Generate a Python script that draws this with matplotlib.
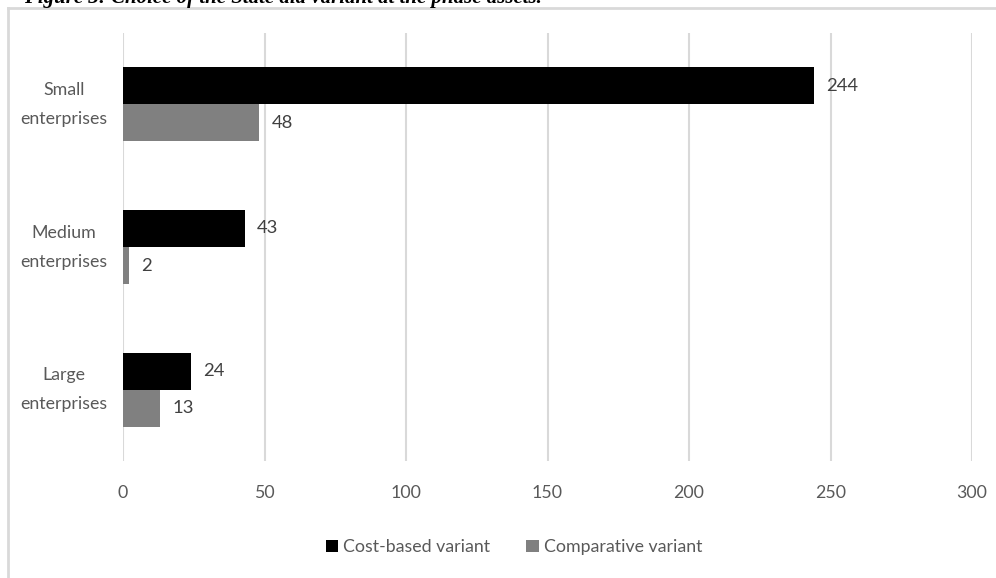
import matplotlib
matplotlib.use("Agg")
import matplotlib.pyplot as plt
from matplotlib.lines import Line2D
from matplotlib.transforms import blended_transform_factory, offset_copy

categories = ["Small\nenterprises", "Medium\nenterprises", "Large\nenterprises"]
cost_based = [244, 43, 24]
comparative = [48, 2, 13]
series_names = ["Cost-based variant", "Comparative variant"]
x_ticks = [0, 50, 100, 150, 200, 250, 300]

plt.rcParams["font.family"] = ["Lato", "DejaVu Sans"]

W, H = 996, 578
fig = plt.figure(figsize=(W / 100, H / 100), dpi=100)
ax = fig.add_axes([123 / W, 1 - 461 / H, (972 - 123) / W, (461 - 33) / H])

bar_h = 0.26
ys = list(range(len(categories)))
text_col = "#595959"
label_col = "#404040"
fs = 12.8

ax.barh([y - bar_h / 2 for y in ys], cost_based, height=bar_h, color="#000000",
        label=series_names[0], zorder=3)
ax.barh([y + bar_h / 2 for y in ys], comparative, height=bar_h, color="#808080",
        label=series_names[1], zorder=3)

for y, v in zip(ys, cost_based):
    ax.annotate(str(v), (v, y - bar_h / 2), xytext=(9, 0), textcoords="offset points",
                va="center", ha="left", fontsize=fs + 0.5, color=label_col)
for y, v in zip(ys, comparative):
    ax.annotate(str(v), (v, y + bar_h / 2), xytext=(9, 0), textcoords="offset points",
                va="center", ha="left", fontsize=fs + 0.5, color=label_col)

ax.set_xlim(0, 300)
ax.set_ylim(2.5, -0.5)
ax.set_xticks(x_ticks)
ax.set_yticks(ys)
ax.set_yticklabels([])
ax.tick_params(axis="both", length=0, labelsize=fs, colors=text_col)
ax.tick_params(axis="x", pad=17)

# category labels, centred in the left margin
trans = offset_copy(blended_transform_factory(ax.transAxes, ax.transData),
                    fig=fig, x=-59 * 72 / 100, y=0, units="points")
for y, name in zip(ys, categories):
    ax.text(0, y, name, transform=trans, ha="center", va="center", fontsize=fs,
            color=text_col, linespacing=2.0)

ax.grid(axis="x", color="#d9d9d9", linewidth=1.5, zorder=0)
for s in ax.spines.values():
    s.set_visible(False)

leg = fig.legend(loc="center", bbox_to_anchor=(514 / W, 1 - 547 / H), ncol=2, frameon=False,
                 fontsize=fs, handlelength=0.7, handleheight=0.7, handletextpad=0.3,
                 columnspacing=2.0)
for t in leg.get_texts():
    t.set_color(text_col)

# chart frame
frame_col = "#d9d9d9"
fig.add_artist(Line2D([7.5 / W, 7.5 / W], [0, 1 - 7.5 / H], color=frame_col, lw=2,
                      transform=fig.transFigure))
fig.add_artist(Line2D([7.5 / W, 1], [1 - 7.5 / H, 1 - 7.5 / H], color=frame_col, lw=2,
                      transform=fig.transFigure))

# figure caption above the chart
fig.text(24 / W, 1 - 3 / H, "Figure 3: Choice of the State aid variant at the phase assets.",
         fontsize=15, fontweight="bold", fontstyle="italic", family="Liberation Serif",
         va="baseline", ha="left", color="black")

fig.savefig("out.png", dpi=100)
